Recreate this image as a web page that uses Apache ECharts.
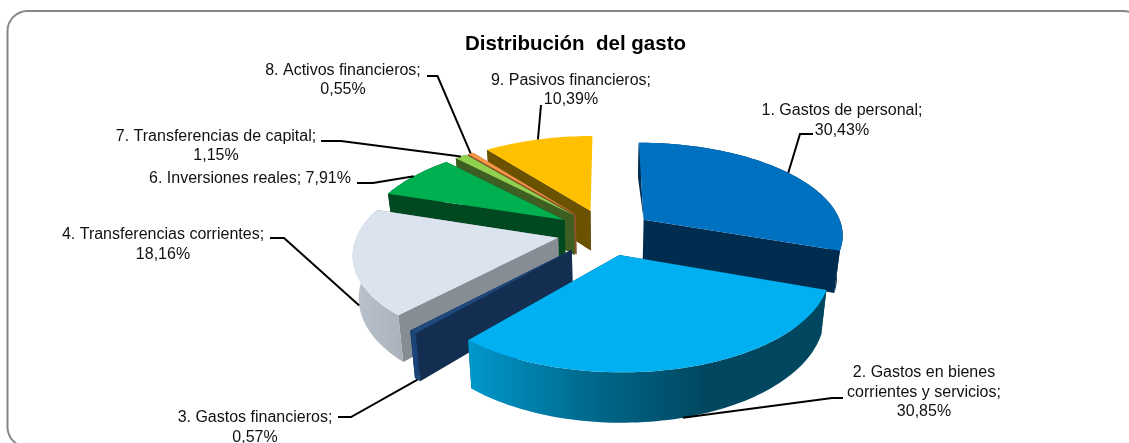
<!DOCTYPE html>
<html><head><meta charset="utf-8">
<style>html,body{margin:0;padding:0;background:#fff}#c{width:1129px;height:443px}</style>
<script src="https://cdn.jsdelivr.net/npm/echarts@6/dist/echarts.min.js"></script>
</head><body><div id="c"></div>
<script>
// ---- data ----
const categories = ['1. Gastos de personal','2. Gastos en bienes\ncorrientes y servicios','3. Gastos financieros','4. Transferencias corrientes','6. Inversiones reales','7. Transferencias de capital','8. Activos financieros','9. Pasivos financieros'];
const values = [30.43,30.85,0.57,18.16,7.91,1.15,0.55,10.39];
const labelSeparators = ['\n','\n','\n','\n',' ','\n','\n','\n'];
// ---- styles ----
const topColors  = ['#0070C0','#00B0F0','#1F497D','#DAE3EE','#00B050','#92D050','#F79646','#FFC000'];
const wallColors = ['#002C4F','#00475F','#142E51','#868D95','#004820','#3F5F22','#8A5226','#6B5200'];
const arcStops   = [null,['#0098CC','#006A8E','#00475F','#00475F'],['#1C4478','#1C4478'],['#BAC3CE','#AAB1BB'],null,null,null,null];
const explodes   = [0.235,0.25,0.25,0.245,0.25,0.25,0.25,0.25];
// painter's order, far slices first
const paintOrder = [7,6,5,4,3,0,2,1];
// ---- projection of the tilted disc ----
const CX=606, CY=232, RX=200, RY=92, PERSP=0.15, DEPTH=41, BOTTOM_X=0.976;
const total = values.reduce((a,b)=>a+b,0);
const rad = d=>d*Math.PI/180;
const starts=[]; let acc=0; values.forEach(v=>{starts.push(acc); acc+=v/total*360;});
function proj(u,v,bottom){
  const s=1/(1-PERSP*v);
  let x=RX*u*s, y=RY*v*s;
  if(bottom){x*=BOTTOM_X; y+=DEPTH*s;}
  return [CX+x,CY+y];
}
function sliceGeo(i){
  const a0=starts[i], a1=a0+values[i]/total*360, mid=(a0+a1)/2;
  const ox=explodes[i]*Math.sin(rad(mid)), oy=-explodes[i]*Math.cos(rad(mid));
  const rim=a=>[ox+Math.sin(rad(a)),oy-Math.cos(rad(a))];
  return {a0,a1,mid,ox,oy,rim};
}
function renderSlice(params){
  const i=paintOrder[params.dataIndex], g=sliceGeo(i);
  const n=Math.max(3,Math.ceil((g.a1-g.a0)/1.5));
  const top=[],bot=[];
  for(let k=0;k<=n;k++){const p=g.rim(g.a0+(g.a1-g.a0)*k/n);top.push(proj(p[0],p[1],false));bot.push(proj(p[0],p[1],true));}
  const at=proj(g.ox,g.oy,false), ab=proj(g.ox,g.oy,true);
  const wall=wallColors[i];
  let arcFill=wall;
  if(arcStops[i]){const st=arcStops[i];arcFill=new echarts.graphic.LinearGradient(0,0,1,0,st.map((c,k)=>({offset:k/(st.length-1),color:c})));}
  const poly=(pts,fill)=>({type:'polygon',shape:{points:pts},style:{fill,stroke:null},silent:true});
  const children=[];
  // first slice's back wall only shows as a thin wedge; last slice's back wall does not show
  children.push(poly(i===0?[at,top[0],bot[0]]:[at,top[0],bot[0],ab],wall));
  if(i!==7) children.push(poly([at,top[n],bot[n],ab],wall));
  else children.push(poly([at,top[0],bot[0],ab],wall));
  if(i!==7) children.push(poly(top.concat(bot.slice().reverse()),arcFill));
  children.push(poly([at].concat(top),topColors[i]));
  return {type:'group',children};
}
// ---- labels and leaders ----
const labelCenters=[[842,120.5],[924,392.5],[255,427.5],[163,244.5],[250,179],[216,146],[343,80],[571,90]];
const leaderStarts=[[813,134],[843,398],[338,417],[270,238],[357,183],[321,141],[427,76],[541,105]];
const leaderKnees =[[800,134],[832,398],[351,417],[284,238],[373,183],[341,141],[437.5,76],[541,105]];
const leaderOnBottom=[false,true,true,true,false,false,false,false];
const pct=v=>v.toFixed(2).replace('.',',')+'%';
function renderLabel(params){
  const i=params.dataIndex, g=sliceGeo(i);
  const p=g.rim(g.mid), end=proj(p[0],p[1],leaderOnBottom[i]);
  return {type:'group',children:[
    {type:'polyline',shape:{points:[leaderStarts[i],leaderKnees[i],end]},style:{fill:null,stroke:'#000',lineWidth:2},silent:true},
    {type:'text',silent:true,style:{x:labelCenters[i][0],y:labelCenters[i][1],text:categories[i]+';'+labelSeparators[i]+pct(values[i]),
      align:'center',verticalAlign:'middle',fontFamily:'"Liberation Sans",Arial,sans-serif',fontSize:16,lineHeight:19.5,fill:'#111'}}
  ]};
}
const chart=echarts.init(document.getElementById('c'),null,{renderer:'canvas'});
chart.setOption({
  animation:false,
  backgroundColor:'#fff',
  title:{text:'Distribución  del gasto',left:570.5,top:29,textAlign:'center',textStyle:{fontFamily:'"Liberation Sans",Arial,sans-serif',fontSize:20.5,fontWeight:'bold',color:'#000'}},
  graphic:[{type:'rect',z:0,silent:true,shape:{x:7.5,y:11,width:1136,height:436,r:20},style:{fill:'#fff',stroke:'#868686',lineWidth:2}}],
  series:[
    {type:'custom',coordinateSystem:'none',z:2,renderItem:renderSlice,data:paintOrder.map(i=>values[i]),silent:true},
    {type:'custom',coordinateSystem:'none',z:3,renderItem:renderLabel,data:values,silent:true}
  ]
});
</script></body></html>
